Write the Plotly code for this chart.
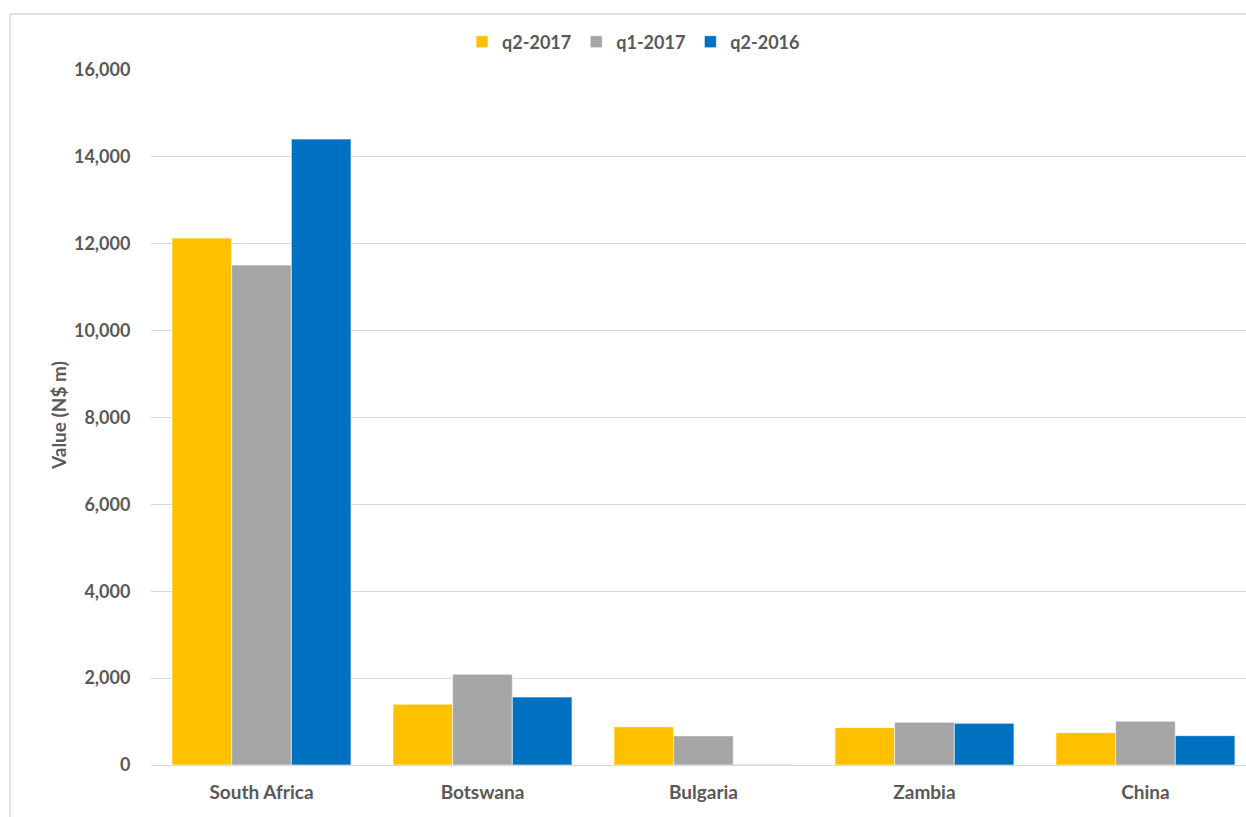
import plotly.graph_objects as go

categories = ["South Africa", "Botswana", "Bulgaria", "Zambia", "China"]
q2_2017 = [12130, 1400, 880, 860, 745]
q1_2017 = [11510, 2090, 670, 985, 1010]
q2_2016 = [14410, 1565, 10, 960, 675]
y_ticks = [0, 2000, 4000, 6000, 8000, 10000, 12000, 14000, 16000]
y_tick_labels = ["0", "2,000", "4,000", "6,000", "8,000", "10,000", "12,000", "14,000", "16,000"]

FONT = "Lato"
TXT = "#595959"

fig = go.Figure()
for name, vals, col in [("q2-2017", q2_2017, "#FFC000"),
                        ("q1-2017", q1_2017, "#A5A5A5"),
                        ("q2-2016", q2_2016, "#0070C0")]:
    fig.add_trace(go.Bar(x=categories, y=vals, name=name,
                         marker=dict(color=col, line=dict(color="rgba(255,255,255,0.6)", width=1))))

W, H = 1246, 817
ml, mr, mt, mb = 151, 0, 70, 52
fig.update_layout(
    width=W, height=H,
    margin=dict(l=ml, r=mr, t=mt, b=mb, pad=0, autoexpand=False),
    paper_bgcolor="white", plot_bgcolor="white",
    barmode="group", bargap=0.19, bargroupgap=0,
    font=dict(family=FONT, size=16, color=TXT),
    showlegend=True,
    legend=dict(orientation="h", xref="container", yref="container",
                x=0.5085, xanchor="center", y=1 - 42 / H, yanchor="middle",
                font=dict(family=FONT, size=18, color=TXT, weight="bold"),
                itemwidth=30, bgcolor="rgba(0,0,0,0)", traceorder="normal"),
    xaxis=dict(range=[-0.5, 4.455], showgrid=False, showline=False, zeroline=False,
               automargin=False,
               tickfont=dict(family=FONT, size=19, color=TXT, weight="bold"),
               ticks="outside", ticklen=10, tickcolor="rgba(0,0,0,0)"),
    yaxis=dict(range=[0, 16000], tickvals=y_ticks, ticktext=y_tick_labels,
               showgrid=True, gridcolor="#D9D9D9", gridwidth=1,
               zeroline=True, zerolinecolor="#D9D9D9", zerolinewidth=1,
               showline=False, automargin=False,
               tickfont=dict(family=FONT, size=18, color=TXT, weight="bold"),
               ticks="outside", ticklen=16, tickcolor="rgba(0,0,0,0)"),
    shapes=[
        dict(type="line", xref="paper", yref="paper",
             x0=(10 - ml) / (W - ml - mr), x1=1.01,
             y0=1 + (mt - 14) / (H - mt - mb), y1=1 + (mt - 14) / (H - mt - mb),
             line=dict(color="#D9D9D9", width=1.5)),
        dict(type="line", xref="paper", yref="paper",
             x0=(10 - ml) / (W - ml - mr), x1=(10 - ml) / (W - ml - mr),
             y0=-mb / (H - mt - mb) - 0.01, y1=1 + (mt - 14) / (H - mt - mb),
             line=dict(color="#D9D9D9", width=1.5)),
    ],
    annotations=[
        dict(text="Value (N$ m)", xref="paper", yref="paper",
             x=(58 - ml) / (W - ml - mr), y=(765 - 416) / (H - mt - mb),
             xanchor="center", yanchor="middle", textangle=-90, showarrow=False,
             font=dict(family=FONT, size=19, color=TXT, weight="bold")),
    ],
)

fig.write_html("out.html")
